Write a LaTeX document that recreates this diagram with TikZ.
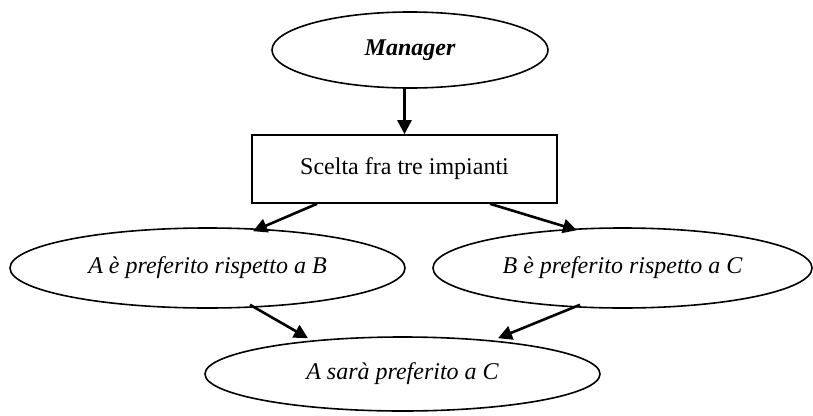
\documentclass[tikz,border=0pt]{standalone}
\usepackage{fontspec}
\setmainfont{Liberation Serif}
\usetikzlibrary{shapes.geometric,arrows.meta}
\begin{document}
\begin{tikzpicture}[x=1pt,y=-1pt,
  txt/.style={font=\fontsize{24}{28}\selectfont},
  oval/.style={ellipse,draw,line width=1.6pt,inner sep=0pt,txt,font=\fontsize{24}{28}\selectfont\itshape},
  box/.style={rectangle,draw,line width=1.6pt,inner sep=0pt,txt},
  arr/.style={line width=2.6pt,-{Triangle[length=14pt,width=14pt]}}]
\useasboundingbox (0,0) rectangle (813,415);

% nodes
\node[oval,minimum width=276pt,minimum height=76pt,
      font=\fontsize{24}{28}\selectfont\bfseries\itshape] (mgr) at (410,50) {Manager};
\node[box,minimum width=305pt,minimum height=68pt] (box) at (404.5,169) {Scelta fra tre impianti};
\node[oval,minimum width=395pt,minimum height=80pt] (ab) at (207.5,268) {A è preferito rispetto a B};
\node[oval,minimum width=379pt,minimum height=80pt] (bc) at (622.5,268) {B è preferito rispetto a C};
\node[oval,minimum width=395pt,minimum height=74pt] (ac) at (402.5,374) {A sarà preferito a C};

% connectors
\draw[arr] (box.north |- mgr.south) -- (box.north);
\draw[arr] ([xshift=-87.5pt]box.south) -- ([xshift=45.5pt,yshift=-4pt]ab.north);
\draw[arr] ([xshift=85.5pt]box.south) -- ([xshift=-45.5pt,yshift=-3pt]bc.north);
\draw[arr] ([xshift=42.5pt,yshift=4pt]ab.south) -- ([xshift=-94.5pt,yshift=-2pt]ac.north);
\draw[arr] ([xshift=-42.5pt,yshift=4pt]bc.south) -- ([xshift=95.5pt,yshift=-2pt]ac.north);
\end{tikzpicture}
\end{document}
